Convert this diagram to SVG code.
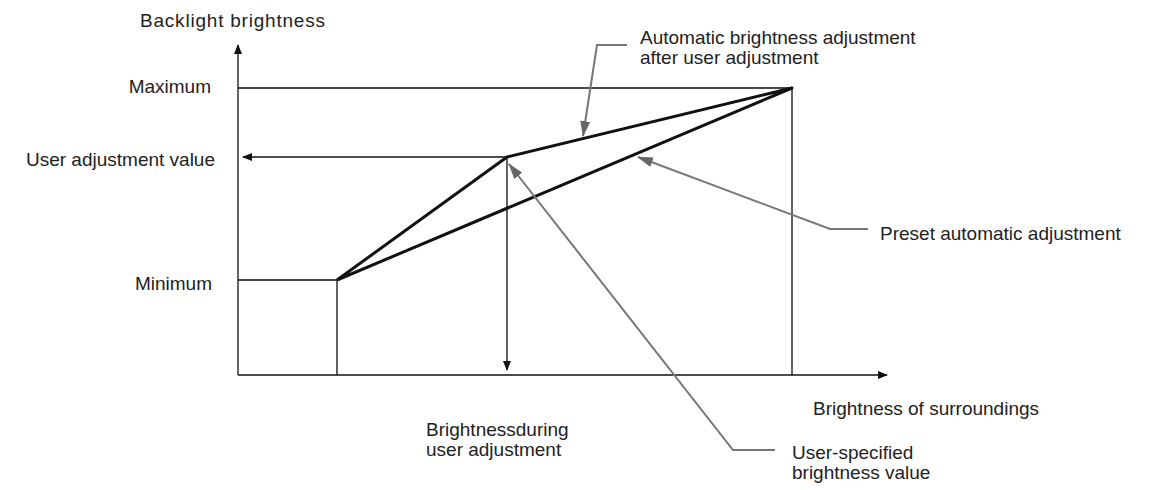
<svg xmlns="http://www.w3.org/2000/svg" width="1153" height="490" viewBox="0 0 1153 490">
<style>
text{font-family:"Liberation Sans",Arial,sans-serif;font-size:19px;fill:#222}
.ax{stroke:#111;stroke-width:1.3;fill:none}
.th{stroke:#111;stroke-width:3;fill:none;stroke-linejoin:round}
.co{stroke:#777;stroke-width:2;fill:none}
</style>
<defs>
<marker id="ab" markerWidth="10" markerHeight="8" refX="9" refY="4" orient="auto" markerUnits="userSpaceOnUse"><path d="M0,0L10,4L0,8z" fill="#111"/></marker>
<marker id="ag" markerWidth="16" markerHeight="10" refX="15" refY="5" orient="auto" markerUnits="userSpaceOnUse"><path d="M0,0L16,5L0,10z" fill="#666"/></marker>
</defs>
<rect width="1153" height="490" fill="#fff"/>
<g id="connectors">
<line class="ax" x1="238" y1="375" x2="238" y2="45" marker-end="url(#ab)"/>
<line class="ax" x1="238" y1="375" x2="887" y2="375" marker-end="url(#ab)"/>
<polyline class="ax" points="238,88 792,88 792,375"/>
<polyline class="ax" points="238,280 337,280 337,375"/>
<line class="ax" x1="507" y1="157" x2="243" y2="157" marker-end="url(#ab)"/>
<line class="ax" x1="507" y1="157" x2="507" y2="370" marker-end="url(#ab)"/>
<polyline class="th" points="337,280 507,157 792,88 337,280"/>
<polyline class="co" points="627,45 597,45 583,136" marker-end="url(#ag)"/>
<polyline class="co" points="868,229 830,229 638,157" marker-end="url(#ag)"/>
<polyline class="co" points="775,450 733,450 509,164" marker-end="url(#ag)"/>
</g>
<g id="labels">
<text x="140" y="27" textLength="185">Backlight brightness</text>
<text x="211" y="93" text-anchor="end">Maximum</text>
<text x="215" y="166" text-anchor="end">User adjustment value</text>
<text x="212" y="290" text-anchor="end">Minimum</text>
<text x="426" y="436">Brightnessduring</text>
<text x="426" y="456">user adjustment</text>
<text x="813" y="415">Brightness of surroundings</text>
<text x="640" y="44">Automatic brightness adjustment</text>
<text x="640" y="64">after user adjustment</text>
<text x="880" y="240">Preset automatic adjustment</text>
<text x="792" y="459">User-specified</text>
<text x="792" y="479">brightness value</text>
</g>
</svg>
